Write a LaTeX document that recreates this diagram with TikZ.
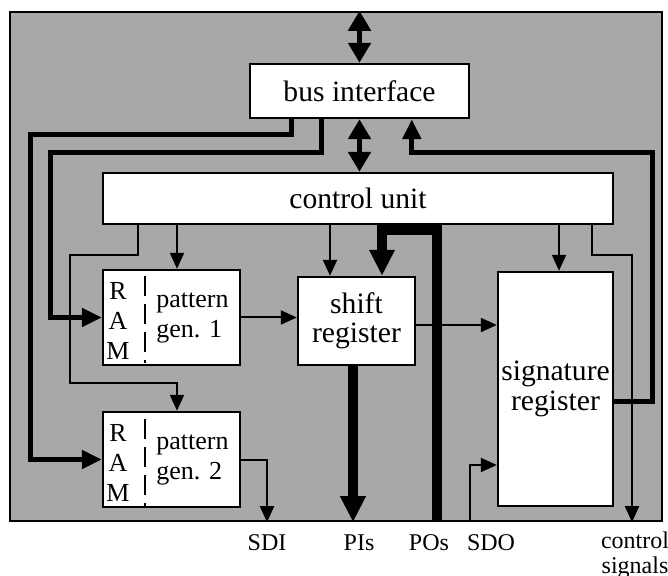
\documentclass[tikz,border=0pt]{standalone}
\usepackage{fontspec}
\setmainfont{Liberation Serif}
\usetikzlibrary{arrows.meta,positioning,calc}
\definecolor{dither}{gray}{0.66}

\tikzset{
  block/.style={draw,fill=white,line width=1.2pt,inner sep=0pt,align=center,
    font=\fontsize{14.8}{15}\selectfont},
  wire/.style={line width=1pt,-{Triangle[length=8pt,width=7pt]}},
  buswire/.style={line width=2.5pt,-{Triangle[length=10pt,width=9pt]}},
  fatwire/.style={line width=5pt,-{Triangle[length=13pt,width=12pt]}},
  bidir/.style={line width=2.5pt,{Triangle[length=10pt,width=11pt]}-{Triangle[length=10pt,width=11pt]}},
  pinlabel/.style={font=\fontsize{12}{12.5}\selectfont,inner sep=0pt},
}

\begin{document}
\begin{tikzpicture}[x=0.5pt,y=-0.5pt]
    \useasboundingbox (0,0) rectangle (668,576);
    % chip outline
    \node[draw,fill=dither,line width=1.2pt,minimum width=326pt,minimum height=254.5pt,inner sep=0pt] (chip) at (336,266.5) {};
    % blocks
    \node[block,minimum width=109.5pt,minimum height=27pt] (bus) at (359.5,91) {bus interface};
    \node[block,minimum width=255pt,minimum height=25.5pt] (ctrl) at (358,198.5) {control unit};
    \node[block,minimum width=68.5pt,minimum height=47.5pt] (ram1) at (171.5,317.5) {};
    \node[block,minimum width=68.5pt,minimum height=47.5pt] (ram2) at (171.5,459.5) {};
    \node[block,minimum width=58.5pt,minimum height=44pt,font=\fontsize{14.8}{14.5}\selectfont] (shift) at (356.5,321) {shift\\register};
    \node[block,minimum width=57.5pt,minimum height=117pt] (sig) at (555.5,389) {signature\\register};
    % RAM parts
    \foreach \g/\y in {1/317.5,2/459.5} {
      \node[align=center,inner sep=0pt,font=\fontsize{13}{15}\selectfont] (ramtxt\g) at (118,\y+3) {R\\A\\M};
      \draw[line width=1.2pt,dash pattern=on 10pt off 4pt] (145,\y-41) -- (145,\y+46);
      \node[align=left,anchor=west,inner sep=0pt,font=\fontsize{13}{15}\selectfont] (gentxt\g) at (156,\y) {pattern\\gen. \g};
    }
    % bus interface links
    \draw[bidir] (bus.north) -- (chip.north -| bus.north);
    \draw[bidir] (bus.south) -- (ctrl.north -| bus.south);
    \draw[buswire] ($(bus.south west)+(43,0)$) |- (30,135) |- (ram2.west);
    \draw[buswire] ($(bus.south west)+(73,0)$) |- (50,153) |- (ram1.west);
    \draw[buswire] ($(sig.east)+(0,13)$) -| (652,153) -| ($(bus.south west)+(163,0)$);
    % control unit outputs
    \draw[wire] (ctrl.south -| 177,0) -- (ram1.north -| 177,0);
    \draw[wire] (ctrl.south -| 138,0) |- (70,255) |- (177,383) -- (ram2.north -| 177,0);
    \draw[wire] (ctrl.south -| 330,0) -- (shift.north -| 330,0);
    \draw[wire] (ctrl.south -| 559,0) -- (sig.north -| 559,0);
    \coordinate (ctlsig) at (chip.south -| 632,0);
    \draw[wire] (ctrl.south -| 592,0) |- (632,255) -- (ctlsig);
    % data path
    \draw[wire] (ram1.east) -- (ram1.east -| shift.west);
    \draw[wire] (shift.east |- 0,325) -- (sig.west |- 0,325);
    \coordinate (sdi) at (chip.south -| 267,0);
    \draw[wire] (ram2.east) -| (sdi);
    \coordinate (pis) at (chip.south -| 353,0);
    \draw[fatwire] (shift.south -| pis) -- (pis);
    \coordinate (pos) at (chip.south -| 437,0);
    \draw[fatwire] (pos) |- (382,230) -- (shift.north -| 382,0);
    \coordinate (sdo) at (chip.south -| 470,0);
    \draw[wire] (sdo) |- (sig.west |- 0,465);
    % pin labels
    \node[pinlabel] (lsdi) at (267,543) {SDI};
    \node[pinlabel] (lpis) at (359,543) {PIs};
    \node[pinlabel] (lpos) at (429,543) {POs};
    \node[pinlabel] (lsdo) at (491,543) {SDO};
    \node[pinlabel,align=center] (lctl) at (635,555) {control\\signals};
  \end{tikzpicture}
\end{document}
